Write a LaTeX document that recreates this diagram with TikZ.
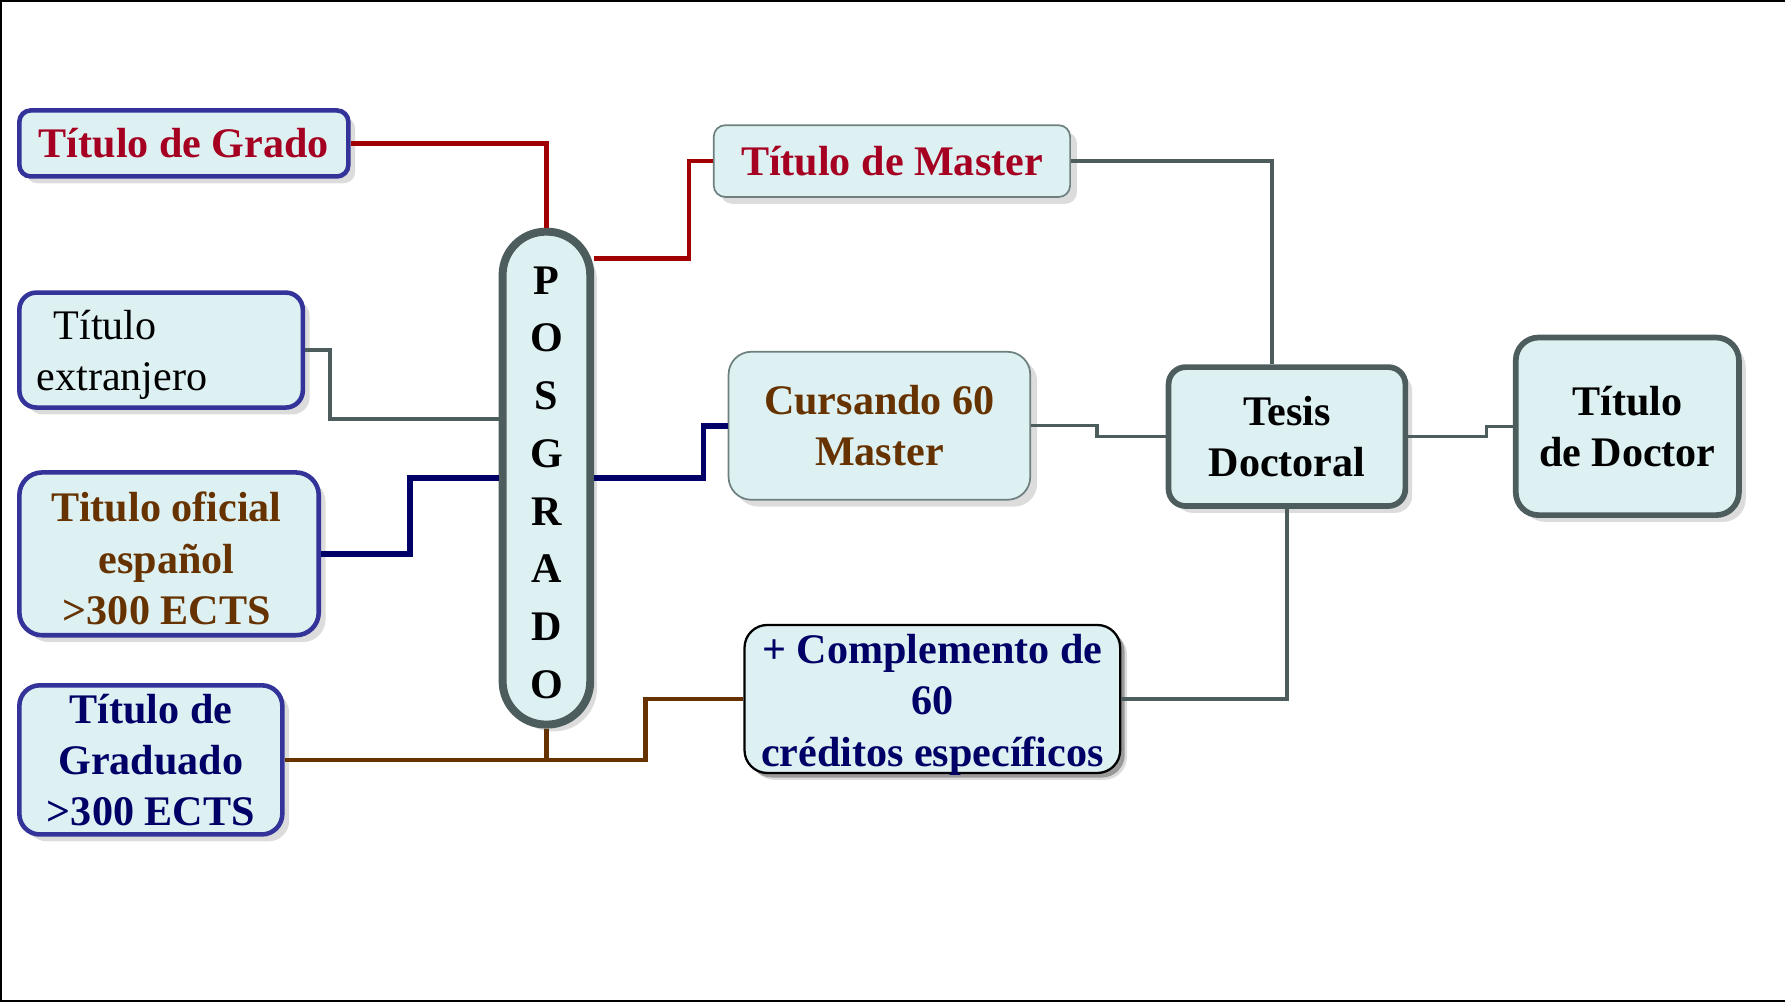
\documentclass[tikz,border=0pt]{standalone}
\usepackage{fontspec}
\setmainfont{Liberation Serif}
\usetikzlibrary{shadows,calc}
\definecolor{boxfill}{RGB}{221,240,242}
\definecolor{bblue}{RGB}{51,51,153}
\definecolor{dgray}{RGB}{77,93,93}
\definecolor{mgray}{RGB}{110,127,128}
\definecolor{tred}{RGB}{165,0,33}
\definecolor{lred}{RGB}{160,0,0}
\definecolor{tbrown}{RGB}{102,51,0}
\definecolor{tnavy}{RGB}{0,0,102}
\tikzset{
  boxfont/.style={font=\fontsize{37}{45}\selectfont\bfseries},
  basebox/.style={draw, fill=boxfill, align=center, inner sep=0pt, boxfont,
    drop shadow={shadow xshift=6pt, shadow yshift=-6pt, fill=black!27}},
  bluebox/.style={basebox, draw=bblue, line width=4pt},
  thinbox/.style={basebox, draw=mgray, line width=1.5pt},
  darkbox/.style={basebox, draw=dgray, line width=5pt},
  boxtext/.style={align=center, inner sep=0pt, boxfont},
  conn/.style={line width=4pt},
}
\begin{document}
\begin{tikzpicture}[x=1pt,y=-1pt]
\useasboundingbox (0,0) rectangle (1568,880);
\draw[line width=3pt] (1568,0) -- (0,0) -- (0,880) -- (1568,880);

% nodes
\node[bluebox, text=tred, minimum width=289, minimum height=58, rounded corners=10pt] (grado) at (161.5,126) {Título de Grado};
\node[bluebox, minimum width=249, minimum height=101, rounded corners=15pt] (ext) at (141.5,307.5) {};
\node[anchor=west, align=left, inner sep=0pt, font=\fontsize{37}{45}\selectfont] (exttxt) at (32,312) {\hspace*{15pt}Título\\extranjero};
\node[bluebox, minimum width=263, minimum height=143, rounded corners=20pt] (ofi) at (148.5,486.5) {};
\node[boxtext, text=tbrown] (ofitxt) at (146.5,490.5) {Titulo oficial\\español\\>300 ECTS};
\node[bluebox, text=tnavy, minimum width=231, minimum height=131, rounded corners=18pt] (gdo) at (132.5,667.5) {Título de\\Graduado\\>300 ECTS};
\node[basebox, draw=dgray, line width=7pt, minimum width=77, minimum height=433, rounded corners=38pt] (pos) at (480,420) {};
\node[boxtext, font=\fontsize{37}{50.7}\selectfont\bfseries] (postxt) at (480,424) {P\\O\\S\\G\\R\\A\\D\\O};
\node[thinbox, text=tred, minimum width=313, minimum height=63, rounded corners=10pt] (master) at (783.5,141.5) {Título de Master};
\node[thinbox, text=tbrown, minimum width=265, minimum height=130, rounded corners=20pt] (cur) at (772.5,374) {Cursando 60\\Master};
\node[darkbox, minimum width=208, minimum height=122, rounded corners=15pt] (tesis) at (1130.5,383.5) {Tesis\\Doctoral};
\node[darkbox, minimum width=196, minimum height=156, rounded corners=20pt] (doctor) at (1429.5,374.5) {Título\\de Doctor};
\node[basebox, draw=black, line width=2pt, minimum width=330, minimum height=130, rounded corners=20pt,
  drop shadow={shadow xshift=4pt, shadow yshift=-4pt, fill=black!65}] (comp) at (819,614) {};
\node[boxtext, text=tnavy] (comptxt) at (819,619) {+ Complemento de\\60\\créditos específicos};

% connectors
\draw[conn, lred] (grado.east) -| (pos.north);
\draw[conn, lred] ($(pos.north east)+(0,27)$) -| ($(master.west)+(-21,0)$) -- (master.west);
\draw[conn, dgray] (ext.east) -- ++(22,0) |- ($(pos.west)+(0,-52)$);
\draw[conn, tnavy, line width=5pt] (ofi.east) -- ++(78,0) |- (pos.west);
\draw[conn, tnavy, line width=5pt] (pos.east) -- ++(96,0) |- (cur.west);
\draw[conn, tbrown] (gdo.east) -- ++(317,0) |- (comp.west);
\draw[conn, tbrown] (pos.south) -- (pos.south |- gdo.east);
\draw[conn, dgray] (master.east) -| ($(tesis.north)+(-13,0)$);
\draw[conn, dgray, line width=3pt] (cur.east) -- ++(58,0) |- (tesis.west);
\draw[conn, dgray] (comp.east) -| (tesis.south);
\draw[conn, dgray, line width=3pt] (tesis.east) -- ++(69,0) |- (doctor.west);
\end{tikzpicture}
\end{document}
